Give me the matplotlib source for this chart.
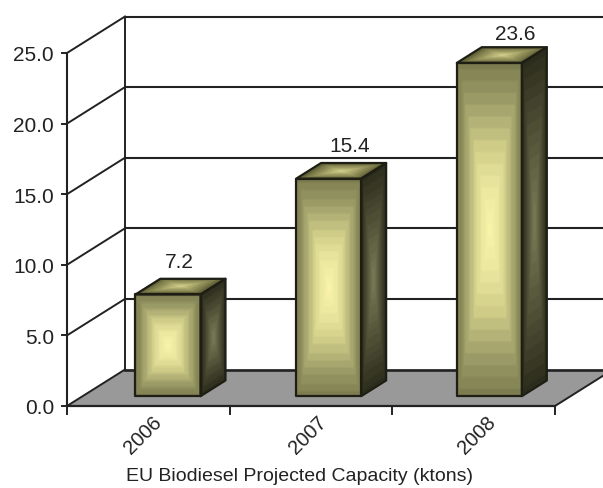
# EU biodiesel capacity, 3D-look column chart
import numpy as np
import matplotlib
matplotlib.use("Agg")
import matplotlib.pyplot as plt
from matplotlib.patches import Polygon
from matplotlib.transforms import Affine2D
from matplotlib.colors import LinearSegmentedColormap

# Data
# -----------------------------------------------------------------------------
years = ["2006", "2007", "2008"]
capacity = [7.2, 15.4, 23.6]
y_ticks = [0, 5, 10, 15, 20, 25]
x_label = "EU Biodiesel Projected Capacity (ktons)"

# Layout
# -----------------------------------------------------------------------------
W, H = 603, 489
px_x = 162.67    # pixels per category
px_y = 14.12     # pixels per value unit
x0, y0 = 67, 407  # pixel position of the chart origin
depth_x = 58 / px_x  # floor depth in data units
depth_y = 36.5 / px_y
bar_w = 0.40
bar_front = 0.27  # bar depth positions, fraction of floor depth
bar_back = 0.70
bar_dx = [4, 2, 0]  # bar shift in pixels
label_dx = [11, 21, 26]  # value label shift in pixels
label_dy = [35, 35, 31]
tick_dx = [-5, -3, 3]  # year label shift in pixels

plt.rcParams["font.family"] = ["Liberation Sans", "DejaVu Sans"]
ink = "#222222"

face_cmap = LinearSegmentedColormap.from_list(
    "face", [(0, "#7c7c50"), (0.25, "#a0a06a"), (0.5, "#cfcc88"), (0.75, "#ece8a0"), (1, "#f9f4a8")])
side_cmap = LinearSegmentedColormap.from_list("side", ["#2c2c1c", "#54543a", "#7c7c58"])
top_cmap = LinearSegmentedColormap.from_list("top", ["#5c5c34", "#9c9a60", "#d4d08c"])


def project(x, v, d):
    # category, value and depth to flat data coordinates
    return (x + d * depth_x, v + d * depth_y)


def shade(cmap, nx, ny, levels=14):
    # concentric rectangular bands like the old office gradient fill
    u = np.abs(np.linspace(-1, 1, nx))
    v = np.abs(np.linspace(-1, 1, ny))
    t = 1 - np.maximum(u[None, :], v[:, None])
    t = np.round(t * levels) / levels
    return cmap(t)


def face(ax, p0, p1, p3, cmap, nx, ny):
    # gradient on the parallelogram with corners p0, p1 (along u) and p3 (along v)
    p0, p1, p3 = np.array(p0), np.array(p1), np.array(p3)
    a, c = p1 - p0
    b, d = p3 - p0
    mat = np.array([[a, b, p0[0]], [c, d, p0[1]], [0, 0, 1]])
    ax.imshow(shade(cmap, nx, ny), extent=(0, 1, 0, 1), origin="lower", aspect="auto",
              interpolation="bilinear", transform=Affine2D(mat) + ax.transData, zorder=4)
    p2 = p1 + p3 - p0
    ax.add_patch(Polygon([p0, p1, p2, p3], closed=True, fill=False, edgecolor="#1e1e14",
                         linewidth=1.6, joinstyle="round", zorder=5))


fig = plt.figure(figsize=(W / 100, H / 100), dpi=100)
ax = fig.add_axes([0, 0, 1, 1])
xmin, xmax = -0.5 - x0 / px_x, -0.5 + (W - x0) / px_x
ymin, ymax = -(H - y0) / px_y, y0 / px_y
ax.set_xlim(xmin, xmax)
ax.set_ylim(ymin, ymax)
ax.axis("off")

left, right = -0.5, len(years) - 0.5
top = y_ticks[-1]

# Floor and walls
floor = [project(left, 0, 0), project(right, 0, 0), (xmax, (xmax - right) / depth_x * depth_y),
         (xmax, depth_y), project(left, 0, 1)]
ax.add_patch(Polygon(floor, closed=True, facecolor="#999999", edgecolor="none", zorder=1))

for v in y_ticks:
    xb, yb = project(left, v, 1)
    xf, yf = project(left, v, 0)
    lw = 1.9 if v == 0 else 1.5
    ax.plot([xb, xmax], [yb, yb], color=ink, lw=lw, zorder=2)
    ax.plot([xf, xb], [yf, yb], color=ink, lw=1.4, zorder=2)
    ax.plot([xf, xf - 5 / px_x], [yf, yf], color=ink, lw=1.4, zorder=2)
    ax.text(xf - 13 / px_x, yf, f"{v:.1f}", ha="right", va="center_baseline", fontsize=15, color=ink)

ax.plot([left, left], [0, top], color=ink, lw=1.5, zorder=2)
ax.plot([project(left, 0, 1)[0]] * 2, [depth_y, top + depth_y], color=ink, lw=1.4, zorder=2)
ax.plot([left, right], [0, 0], color=ink, lw=1.6, zorder=6)
xe = [right, xmax]
ax.plot(xe, [0, (xe[1] - right) / depth_x * depth_y], color=ink, lw=1.4, zorder=2)

for i in range(len(years) + 1):
    ax.plot([left + i, left + i], [0, -8 / px_y], color=ink, lw=1.4, zorder=2)

# Bars
for i, (year, val) in enumerate(zip(years, capacity)):
    xc = i + bar_dx[i] / px_x
    xl, xr = xc - bar_w / 2, xc + bar_w / 2
    ny = max(40, int(val * 6))
    face(ax, project(xr, 0, bar_front), project(xr, 0, bar_back), project(xr, val, bar_front),
         side_cmap, 20, ny)
    face(ax, project(xl, val, bar_front), project(xr, val, bar_front), project(xl, val, bar_back),
         top_cmap, 40, 16)
    face(ax, project(xl, 0, bar_front), project(xr, 0, bar_front), project(xl, val, bar_front),
         face_cmap, 40, ny)

    xm, ym = project(xc, val, bar_front)
    ax.text(xm + label_dx[i] / px_x, ym + label_dy[i] / px_y, f"{val}", ha="center", va="center_baseline",
            fontsize=15, color=ink, zorder=7)
    ax.text(i + tick_dx[i] / px_x, -28 / px_y, year, rotation=45, ha="center", va="center",
            fontsize=14.5, color=ink)

# imshow resets the limits
ax.set_xlim(xmin, xmax)
ax.set_ylim(ymin, ymax)

ax.text((299.5 - x0) / px_x - 0.5, -(477 - y0) / px_y, x_label, ha="center", va="center",
        fontsize=14, color=ink)

fig.savefig("out.png", dpi=100)
